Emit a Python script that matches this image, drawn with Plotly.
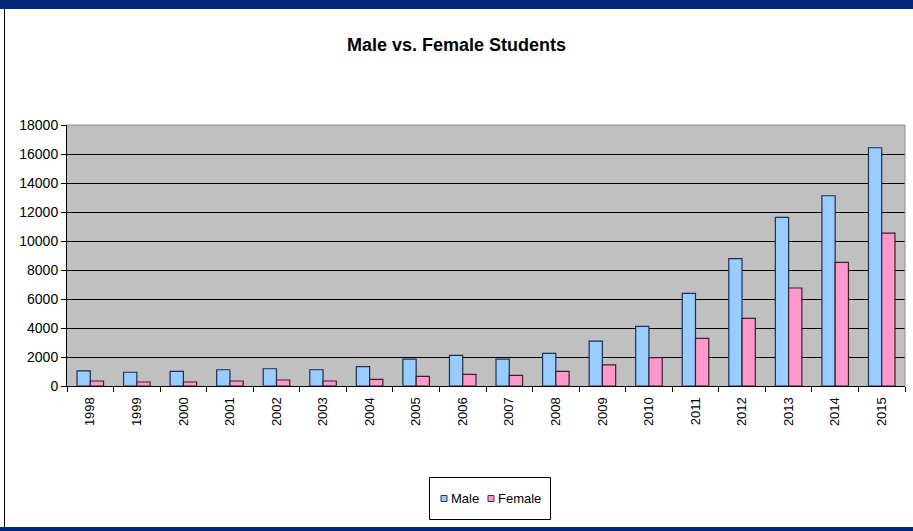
import plotly.graph_objects as go

years = [str(y) for y in range(1998, 2016)]
male = [1050, 950, 1010, 1120, 1190, 1120, 1330, 1860, 2110, 1860, 2250, 3100, 4110, 6390, 8780, 11630, 13120, 16430]
female = [345, 276, 276, 345, 414, 345, 460, 667, 805, 736, 1010, 1460, 1950, 3290, 4670, 6760, 8530, 10550]
yticks = list(range(0, 18001, 2000))
series_names = ["Male", "Female"]
series_colors = ["#99CCFF", "#FF99CC"]

W, H = 913, 531
L, R, T, B = 67, 8, 125, 145
PW, PH = W - L - R, H - T - B


def px(x):
    return (x - L) / PW


def py(y):
    return (H - B - y) / PH


fig = go.Figure()
fig.add_trace(go.Bar(x=years, y=male, name=series_names[0],
                     marker=dict(color=series_colors[0], line=dict(color="#1f2f4f", width=1.2))))
fig.add_trace(go.Bar(x=years, y=female, name=series_names[1],
                     marker=dict(color=series_colors[1], line=dict(color="#3a1f2f", width=1.2))))

shapes = [
    dict(type="line", xref="paper", yref="paper", x0=0, x1=1, y0=1, y1=1,
         line=dict(color="#8c8c8c", width=1), layer="above"),
    dict(type="line", xref="paper", yref="paper", x0=1, x1=1, y0=0, y1=1,
         line=dict(color="#8c8c8c", width=1), layer="above"),
    # frame
    dict(type="rect", xref="paper", yref="paper", x0=px(0), x1=px(W), y0=py(9), y1=py(0),
         fillcolor="#002A78", line=dict(width=0), layer="above"),
    dict(type="rect", xref="paper", yref="paper", x0=px(0), x1=px(W), y0=py(H), y1=py(527),
         fillcolor="#002A78", line=dict(width=0), layer="above"),
    dict(type="line", xref="paper", yref="paper", x0=px(4.5), x1=px(4.5), y0=py(527), y1=py(9),
         line=dict(color="black", width=1), layer="above"),
    # legend box
    dict(type="rect", xref="paper", yref="paper", x0=px(429.5), x1=px(550.5), y0=py(519.5), y1=py(477.5),
         fillcolor="white", line=dict(color="black", width=1), layer="above"),
]
annotations = []
leg_sq_x = [441, 488]
leg_tx_x = [449, 496]
for i, name in enumerate(series_names):
    shapes.append(dict(type="rect", xref="paper", yref="paper",
                       x0=px(leg_sq_x[i]), x1=px(leg_sq_x[i] + 6),
                       y0=py(501.5), y1=py(495.5),
                       fillcolor=series_colors[i], line=dict(color="#333355", width=1), layer="above"))
    annotations.append(dict(xref="paper", yref="paper", x=px(leg_tx_x[i]), y=py(498.5),
                            xanchor="left", yanchor="middle", showarrow=False, text=name,
                            font=dict(size=13, color="black")))

fig.update_layout(
    width=W, height=H,
    margin=dict(l=L, r=R, t=T, b=B),
    paper_bgcolor="white",
    plot_bgcolor="#C0C0C0",
    barmode="group", bargap=0.43, bargroupgap=0,
    showlegend=False,
    font=dict(family="Liberation Sans, Arial, sans-serif", color="black"),
    title=dict(text="<b>Male vs. Female Students</b>", x=0.5, xanchor="center",
               y=1 - 45 / H, yanchor="middle",
               font=dict(size=18, family="Liberation Sans, Arial, sans-serif", color="black")),
    xaxis=dict(type="category", tickangle=-90, tickson="boundaries",
               ticks="outside", ticklen=5, tickcolor="black",
               showline=True, linecolor="black", linewidth=1,
               showgrid=False, tickfont=dict(size=13, color="black"),
               ticklabelstandoff=5),
    yaxis=dict(range=[0, 18000], tickvals=yticks, ticktext=[str(v) for v in yticks],
               ticks="outside", ticklen=5, tickcolor="black",
               showline=True, linecolor="black", linewidth=1,
               showgrid=True, gridcolor="black", gridwidth=1,
               zeroline=False, tickfont=dict(size=14, color="black")),
    shapes=shapes,
    annotations=annotations,
)

fig.write_html("out.html")
